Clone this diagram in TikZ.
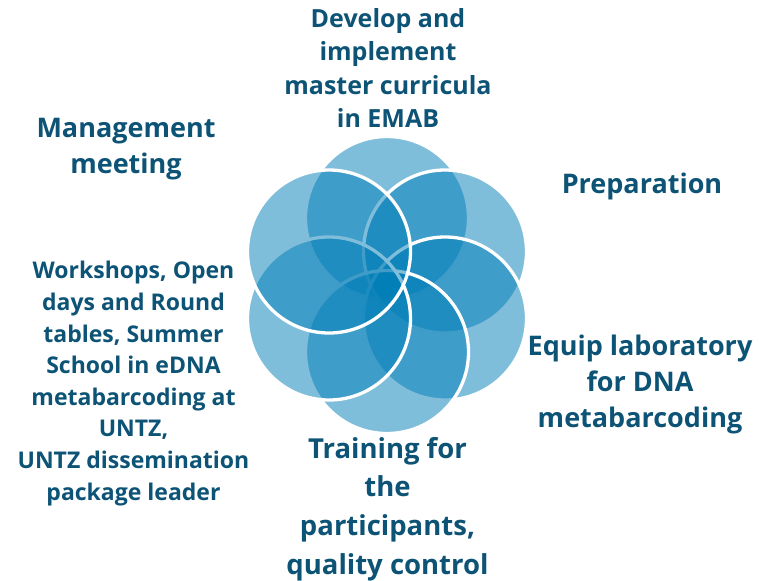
\documentclass[tikz,border=0pt]{standalone}
\usepackage{fontspec}
\setmainfont{Open Sans}
\definecolor{petalblue}{RGB}{0,125,183}
\definecolor{txtblue}{RGB}{12,83,118}
\begin{document}
\begin{tikzpicture}[
    x=1pt, y=-1pt,
    petal/.style={circle, draw=white, line width=3.3pt, fill=petalblue, fill opacity=0.5, minimum size=163pt, inner sep=0pt},
    lbl/.style={text=txtblue, align=center, inner sep=0pt},
    fsbig/.style={font=\bfseries\fontsize{27}{36}\selectfont},
    fsmid/.style={font=\bfseries\fontsize{25}{33.3}\selectfont},
    fssmall/.style={font=\bfseries\fontsize{23}{31.6}\selectfont}
]
\useasboundingbox (0,0) rectangle (767,580);
% petals, drawn in turn
\node[petal] (pTop) at (387, 218)   {};
\node[petal] (pUR)  at (445, 251.5) {};
\node[petal] (pR)   at (445, 318.5) {};
\node[petal] (pB)   at (387, 352)   {};
\node[petal] (pLL)  at (329, 318.5) {};
\node[petal] (pUL)  at (329, 251.5) {};
% labels
\node[lbl, fsmid]   (develop) at (388, 68)    {Develop and\\implement\\master curricula\\in EMAB};
\node[lbl, fsbig]   (mgmt)    at (126, 149.5) {Management\\meeting};
\node[lbl, fsbig]   (prep)    at (642, 186)   {Preparation};
\node[lbl, fsbig, font=\bfseries\fontsize{27}{36}\selectfont] (equip) at (640, 384) {Equip laboratory\\for DNA\\metabarcoding};
\node[lbl, font=\bfseries\fontsize{27.5}{38.7}\selectfont] (train) at (387.5, 509) {Training for\\the\\participants,\\quality control};
\node[lbl, fssmall] (work)    at (133.5, 383.5) {Workshops, Open\\days and Round\\tables, Summer\\School in eDNA\\metabarcoding at\\UNTZ,\\UNTZ dissemination\\package leader};
\end{tikzpicture}
\end{document}
